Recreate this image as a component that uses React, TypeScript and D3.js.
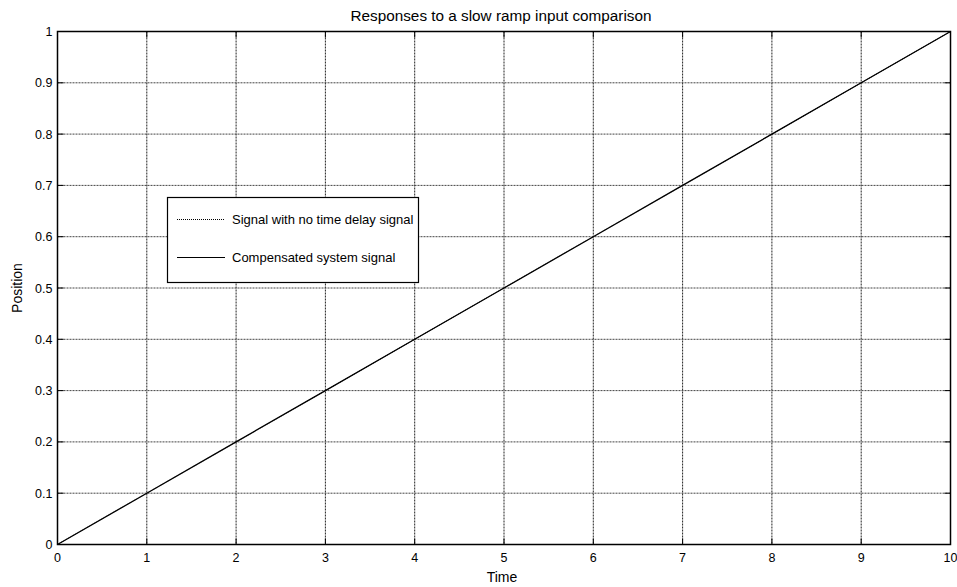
import React from "react";
import * as d3 from "d3";

const timeValues = [0, 1, 2, 3, 4, 5, 6, 7, 8, 9, 10];
const noDelaySignal = [0, 0.1, 0.2, 0.3, 0.4, 0.5, 0.6, 0.7, 0.8, 0.9, 1.0];
const compensatedSignal = [0, 0.1, 0.2, 0.3, 0.4, 0.5, 0.6, 0.7, 0.8, 0.9, 1.0];
const xTicks = [0, 1, 2, 3, 4, 5, 6, 7, 8, 9, 10];
const yTicks = [0, 0.1, 0.2, 0.3, 0.4, 0.5, 0.6, 0.7, 0.8, 0.9, 1];
const legendLabels = ["Signal with no time delay signal", "Compensated system signal"];

const W = 957, H = 587;
const L = 57.5, R = 950.5, T = 31.5, B = 544.5;
const font = "Liberation Sans, Arial, sans-serif";

export default function App() {
  const x = d3.scaleLinear().domain([0, 10]).range([L, R]);
  const y = d3.scaleLinear().domain([0, 1]).range([B, T]);
  const line = d3.line<number>().x((_, i) => x(timeValues[i])).y((d) => y(d));
  return (
    <svg width={W} height={H} style={{ position: "absolute", left: 0, top: 0, background: "#fff" }}>
      <rect x={0} y={0} width={W} height={H} fill="#fff" />
      {xTicks.map((t) => (
        <g key={"x" + t}>
          {t > 0 && t < 10 && (
            <line x1={x(t)} x2={x(t)} y1={T} y2={B} stroke="#222" strokeWidth={1} strokeDasharray="2,1" />
          )}
          <line x1={x(t)} x2={x(t)} y1={B} y2={B - 6} stroke="#000" />
          <line x1={x(t)} x2={x(t)} y1={T} y2={T + 6} stroke="#000" />
          <text x={x(t)} y={B + 17} textAnchor="middle" fontFamily={font} fontSize={12.5} fill="#000">{t}</text>
        </g>
      ))}
      {yTicks.map((t) => (
        <g key={"y" + t}>
          {t > 0 && t < 1 && (
            <line x1={L} x2={R} y1={y(t)} y2={y(t)} stroke="#444" strokeWidth={1} strokeDasharray="2,1" />
          )}
          <line x1={L} x2={L + 6} y1={y(t)} y2={y(t)} stroke="#000" />
          <line x1={R} x2={R - 6} y1={y(t)} y2={y(t)} stroke="#000" />
          <text x={L - 5} y={y(t) + 4.5} textAnchor="end" fontFamily={font} fontSize={12.5} fill="#000">{t}</text>
        </g>
      ))}
      <path d={line(noDelaySignal) || ""} fill="none" stroke="#000" strokeWidth={1} strokeDasharray="1,1" />
      <path d={line(compensatedSignal) || ""} fill="none" stroke="#000" strokeWidth={1.3} />
      <rect x={L} y={T} width={R - L} height={B - T} fill="none" stroke="#000" strokeWidth={1.5} />
      <text x={501} y={21} textAnchor="middle" fontFamily={font} fontSize={15.3} fill="#000">
        Responses to a slow ramp input comparison
      </text>
      <text x={502} y={582} textAnchor="middle" fontFamily={font} fontSize={14} fill="#000">Time</text>
      <text transform={`translate(22,${(T + B) / 2}) rotate(-90)`} textAnchor="middle" fontFamily={font} fontSize={14} fill="#000">Position</text>
      <g>
        <rect x={167.5} y={197.5} width={251} height={85} fill="#fff" stroke="#000" strokeWidth={1.2} />
        <line x1={177} x2={225} y1={219.5} y2={219.5} stroke="#000" strokeDasharray="1,1" />
        <line x1={177} x2={225} y1={257.5} y2={257.5} stroke="#000" />
        <text x={232} y={224} fontFamily={font} fontSize={13} fill="#000">{legendLabels[0]}</text>
        <text x={232} y={262} fontFamily={font} fontSize={13} fill="#000">{legendLabels[1]}</text>
      </g>
    </svg>
  );
}
